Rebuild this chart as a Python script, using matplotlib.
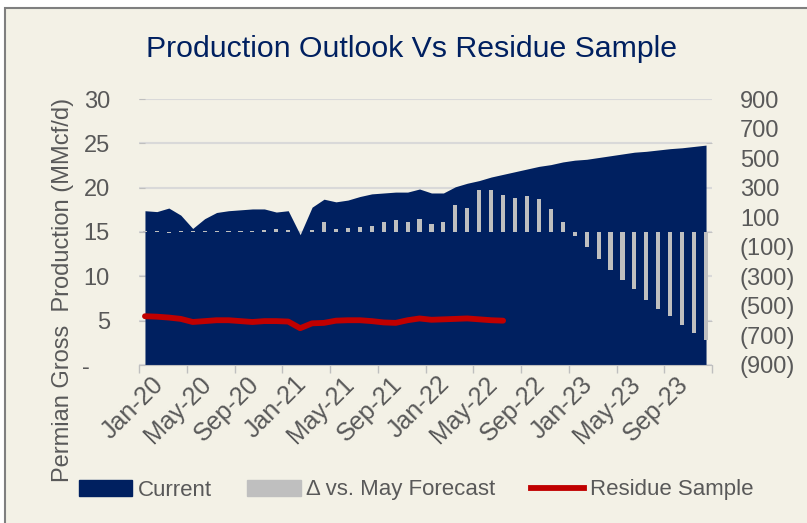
import matplotlib
matplotlib.use("Agg")
import matplotlib.pyplot as plt
from matplotlib.patches import Rectangle, Patch
from matplotlib.lines import Line2D
from matplotlib.transforms import ScaledTranslation
import numpy as np

# monthly values Jan-20 .. Dec-23
current = [17.4, 17.3, 17.7, 16.9, 15.4, 16.5, 17.2, 17.4, 17.5, 17.6,
           17.6, 17.25, 17.4, 14.7, 17.8, 18.7, 18.4, 18.6, 19.0, 19.3,
           19.4, 19.5, 19.5, 19.85, 19.4, 19.4, 20.1, 20.5, 20.8, 21.2,
           21.5, 21.8, 22.1, 22.4, 22.6, 22.9, 23.1, 23.2, 23.4, 23.6,
           23.8, 24.0, 24.1, 24.25, 24.4, 24.5, 24.65, 24.8]
delta = [5, 5, -8, 5, 5, 5, 5, 5, 5, 6,
         15, 20, 12, 3, 12, 68, 18, 27, 37, 40,
         69, 78, 69, 86, 54, 70, 183, 164, 284, 284,
         250, 232, 241, 223, 153, 70, -24, -101, -180, -259,
         -327, -388, -460, -519, -570, -631, -685, -733]
residue = [5.5, 5.45, 5.35, 5.2, 4.85, 4.95, 5.05, 5.05, 4.95, 4.85,
           4.95, 4.95, 4.9, 4.15, 4.7, 4.75, 5.0, 5.05, 5.05, 4.95,
           4.8, 4.75, 5.05, 5.25, 5.1, 5.15, 5.2, 5.25, 5.15, 5.05, 5.0]
tick_labels = ["Jan-20", "May-20", "Sep-20", "Jan-21", "May-21", "Sep-21",
               "Jan-22", "May-22", "Sep-22", "Jan-23", "May-23", "Sep-23"]
left_ticks = [0, 5, 10, 15, 20, 25, 30]
left_labels = ["-   ", "5", "10", "15", "20", "25", "30"]
right_ticks = list(range(-900, 901, 200))

NAVY = "#002060"
GREY = "#BFBFBF"
RED = "#C00000"
BEIGE = "#F3F1E6"
TEXT = "#595959"

plt.rcParams["font.family"] = ["Liberation Sans", "DejaVu Sans"]

fig = plt.figure(figsize=(8.07, 5.23), dpi=100)
fig.patch.set_facecolor("white")
fig.patches.append(Rectangle((5 / 807, -0.1), 1.1, 1.1 - 8 / 523,
                             transform=fig.transFigure, facecolor=BEIGE,
                             edgecolor="#7F7F7F", lw=1.5, zorder=-10))

ax = fig.add_axes([139 / 807, 158 / 523, 573 / 807, 266 / 523])
ax.set_facecolor("none")
x = np.arange(len(current))
ax.fill_between(x, 0, current, color=NAVY, lw=0, zorder=2)
ax.plot(np.arange(len(residue)), residue, color=RED, lw=4.2,
        solid_capstyle="round", solid_joinstyle="round", zorder=3)
ax.set_xlim(-0.5, len(current) - 0.5)
ax.set_ylim(0, 30)
ax.set_yticks(left_ticks)
ax.set_yticklabels(left_labels)
ax.grid(axis="y", color="#D9D9D9", lw=1.5, zorder=0)
ax.set_axisbelow(True)

ax.set_xticks(np.arange(0, 48, 4))
ax.set_xticklabels(tick_labels)
ax.set_xticks(np.arange(-0.5, 48, 4), minor=True)
ax.tick_params(axis="x", which="major", length=0, pad=5, labelsize=18,
               labelcolor=TEXT)
ax.tick_params(axis="x", which="minor", length=6, color="#BFBFBF", width=1)
shift = ScaledTranslation(6 / 100, 0, fig.dpi_scale_trans)
for lab in ax.get_xticklabels():
    lab.set_rotation(45)
    lab.set_ha("right")
    lab.set_va("top")
    lab.set_rotation_mode("anchor")
    lab.set_transform(lab.get_transform() + shift)
ax.tick_params(axis="y", direction="in", length=4, color="#BFBFBF",
               pad=21, labelsize=17, labelcolor=TEXT)

for s in ["left", "right", "top"]:
    ax.spines[s].set_visible(False)
ax.spines["bottom"].set_color("#BFBFBF")

ax2 = ax.twinx()
ax2.bar(x, delta, width=0.35, color=GREY, lw=0, zorder=3)
ax2.set_ylim(-900, 900)
ax2.set_yticks(right_ticks)
ax2.set_yticklabels([f"({abs(v)})" if v < 0 else str(v) for v in right_ticks])
ax2.set_yticks(range(-900, 901, 300), minor=True)
ax2.tick_params(axis="y", which="major", length=0, pad=20, labelsize=17,
                labelcolor=TEXT)
ax2.tick_params(axis="y", which="minor", direction="in", length=4,
                color="#BFBFBF")
for s in ax2.spines.values():
    s.set_visible(False)

fig.text(412 / 807, 1 - 49 / 523, "Production Outlook Vs Residue Sample",
         ha="center", va="center", fontsize=21.8, color=NAVY)
fig.text(63 / 807, 1 - 290 / 523, "Permian Gross  Production (MMcf/d)",
         rotation=90, ha="center", va="center", fontsize=17, color=TEXT)

handles = [Patch(color=NAVY), Patch(color=GREY),
           Line2D([], [], color=RED, lw=4.2)]
fig.legend(handles, ["Current", "\u0394 vs. May Forecast", "Residue Sample"],
           loc="center", bbox_to_anchor=(416 / 807, 1 - 490 / 523), ncol=3,
           frameon=False, fontsize=16, handlelength=2.4, handletextpad=0.25,
           columnspacing=1.6, labelcolor=TEXT)

fig.savefig("out.png", dpi=100)
